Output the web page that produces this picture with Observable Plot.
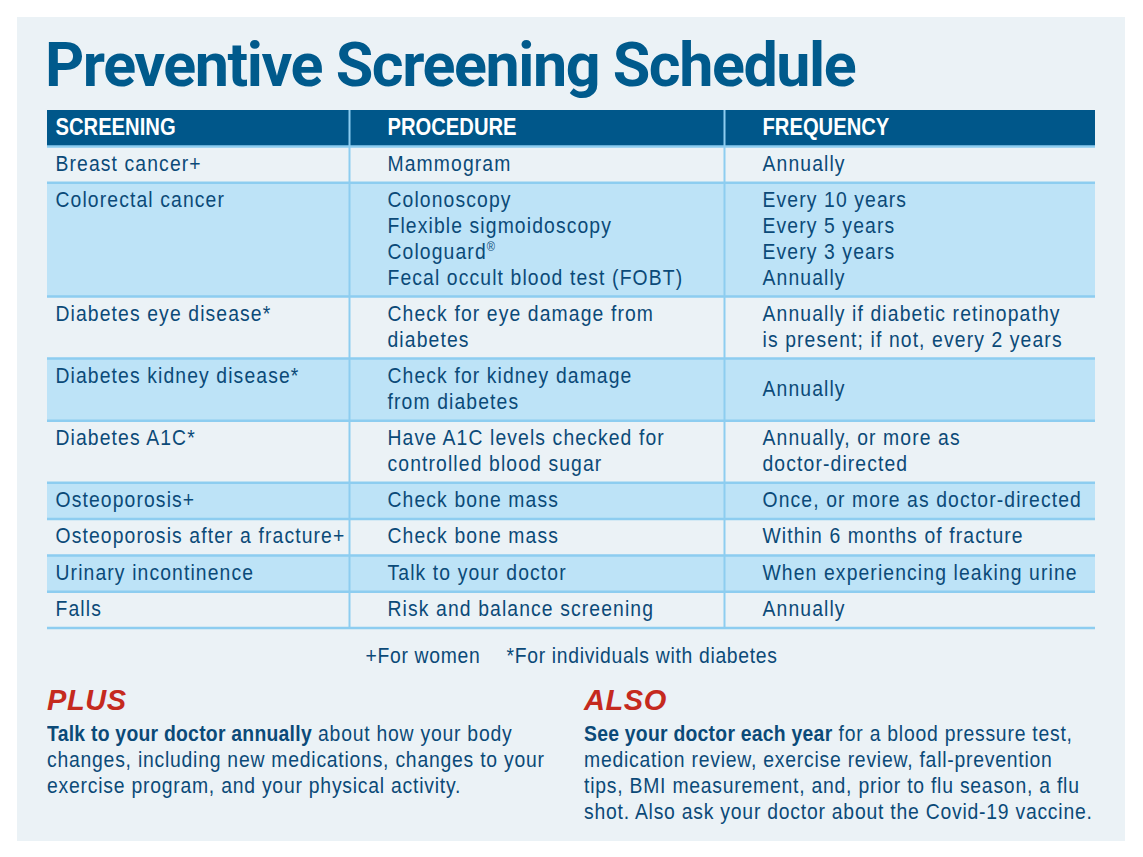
<!DOCTYPE html>
<html><head><meta charset="utf-8">
<script src="https://cdn.jsdelivr.net/npm/d3@7"></script>
<script src="https://cdn.jsdelivr.net/npm/@observablehq/plot@0.6"></script>
<style>
html,body{margin:0;padding:0;background:#fff;width:1143px;height:857px;overflow:hidden;}
#panel{position:absolute;left:17px;top:17px;width:1108px;height:824px;background:#ebf2f6;}
#title{position:absolute;left:45px;top:30px;font-family:Roboto,'Liberation Sans',sans-serif;font-weight:700;font-size:61px;line-height:70px;color:#005a8c;letter-spacing:-1.45px;white-space:nowrap;}
#chart{position:absolute;left:0;top:100px;}
.note{position:absolute;font-family:'Liberation Sans',Arial,sans-serif;color:#0b4a78;font-size:22.5px;line-height:26px;white-space:nowrap;}
.note .head{font-weight:700;font-style:italic;font-size:29px;line-height:32px;color:#c52a1e;letter-spacing:0.6px;margin-bottom:5px;}
.note .body{transform:scaleX(0.86);transform-origin:0 0;letter-spacing:0.9px;}
.note b{font-weight:700;letter-spacing:0.3px;}
</style></head>
<body>
<div id="panel"></div>
<div id="title"></div>
<div id="chart"></div>
<div class="note" id="plus" style="left:47px;top:684px;"></div>
<div class="note" id="also" style="left:584px;top:684px;"></div>
<script>
// ---- data ----
const titleText = "Preventive Screening Schedule";
const headers = ["SCREENING", "PROCEDURE", "FREQUENCY"];
const screening = ["Breast cancer+", "Colorectal cancer", "Diabetes eye disease*", "Diabetes kidney disease*", "Diabetes A1C*", "Osteoporosis+", "Osteoporosis after a fracture+", "Urinary incontinence", "Falls"];
const procedure = ["Mammogram", "Colonoscopy\nFlexible sigmoidoscopy\nCologuard®\nFecal occult blood test (FOBT)", "Check for eye damage from\ndiabetes", "Check for kidney damage\nfrom diabetes", "Have A1C levels checked for\ncontrolled blood sugar", "Check bone mass", "Check bone mass", "Talk to your doctor", "Risk and balance screening"];
const frequency = ["Annually", "Every 10 years\nEvery 5 years\nEvery 3 years\nAnnually", "Annually if diabetic retinopathy\nis present; if not, every 2 years", "Annually", "Annually, or more as\ndoctor-directed", "Once, or more as doctor-directed", "Within 6 months of fracture", "When experiencing leaking urine", "Annually"];
const footnotes = ["+For women", "*For individuals with diabetes"];
const plusHead = "PLUS";
const plusBold = "Talk to your doctor annually";
const plusLines = [" about how your body", "changes, including new medications, changes to your", "exercise program, and your physical activity."];
const alsoHead = "ALSO";
const alsoBold = "See your doctor each year";
const alsoLines = [" for a blood pressure test,", "medication review, exercise review, fall-prevention", "tips, BMI measurement, and, prior to flu season, a flu", "shot. Also ask your doctor about the Covid-19 vaccine."];

// ---- layout ----
const colEdges = [47, 349, 724, 1095];
const textX = [55, 387, 762];
const footX = [365, 506];
const headTop = 110, headBottom = 146;
const lineH = 26;            // text line spacing
const rowA = 10.5, rowB = 25.8; // row height = rowA + rowB * lines
const firstLine = 15.8;      // first line centre below row top
const FS = 22.5, SX = 0.86;  // font size, horizontal condensing
const F = "'Liberation Sans',Arial,sans-serif";
const C = {text: "#0b4a78", head: "#00578a", band: "#bde3f7", rule: "#8dcdf0"};

const nLines = t => t.split("\n").length;
const rows = screening.map((s, i) => ({i, screening: s, procedure: procedure[i], frequency: frequency[i]}));
let yc = headBottom;
for (const r of rows) {
  r.lines = Math.max(nLines(r.screening), nLines(r.procedure), nLines(r.frequency));
  r.top = yc; r.bottom = yc + rowA + rowB * r.lines; r.mid = (r.top + r.bottom) / 2; yc = r.bottom;
}
const tableBottom = yc;
const bands = rows.filter(r => r.i % 2 === 1);
const hlines = [headBottom, ...rows.map(r => r.bottom)];
const cols = [0, 1, 2].map(i => ({i, name: headers[i], x: textX[i]}));
const topY = key => d => d.top + firstLine + lineH * (nLines(d[key]) - 1) / 2;

const common = {fontFamily: F, fontSize: FS, fill: C.text, textAnchor: "start", lineAnchor: "middle", lineHeight: lineH / FS};
const chart = Plot.plot({
  width: 1143, height: 580,
  margin: 0,
  x: {domain: [0, 1143], range: [0, 1143], axis: null},
  y: {domain: [100, 680], range: [0, 580], axis: null},
  style: {background: "none", overflow: "visible", letterSpacing: "1.3px"},
  marks: [
    Plot.rect(bands, {x1: colEdges[0], x2: colEdges[3], y1: "top", y2: "bottom", fill: C.band}),
    Plot.rect([headers], {x1: colEdges[0], x2: colEdges[3], y1: headTop, y2: headBottom, fill: C.head}),
    Plot.ruleY(hlines, {x1: colEdges[0], x2: colEdges[3], stroke: C.rule, strokeWidth: 2.5}),
    Plot.ruleX(colEdges.slice(1, 3), {y1: headTop, y2: tableBottom, stroke: C.rule, strokeWidth: 2}),
    Plot.text(cols, {x: "x", y: (headTop + headBottom) / 2 - 1, text: "name", fontFamily: F, fontSize: 23.5, fontWeight: "bold", fill: "white", textAnchor: "start", lineAnchor: "middle", className: "hdr"}),
    Plot.text(rows, {...common, x: textX[0], y: topY("screening"), text: "screening"}),
    Plot.text(rows, {...common, x: textX[1], y: topY("procedure"), text: "procedure"}),
    Plot.text(rows, {...common, x: textX[2], y: d => d.mid - 2.3, text: "frequency"}),
    Plot.text(footnotes, {x: (d, i) => footX[i], y: 655, text: d => d, fontFamily: F, fontSize: FS, fill: C.text, textAnchor: "start", lineAnchor: "middle", className: "foot"})
  ]
});
document.getElementById("chart").appendChild(chart);
chart.querySelectorAll(".hdr text").forEach(t => t.style.letterSpacing = "0px");
chart.querySelectorAll(".foot text").forEach(t => t.style.letterSpacing = "0.8px");

// condense every text horizontally around its own anchor
chart.querySelectorAll("text").forEach(t => {
  const x = +t.getAttribute("x") || 0;
  const tr = t.getAttribute("transform") || "";
  t.setAttribute("transform", `${tr} translate(${x},0) scale(${SX},1) translate(${-x},0)`);
});

// superscript registered mark
chart.querySelectorAll("tspan, text").forEach(el => {
  if (el.childElementCount === 0 && el.textContent.includes("®")) {
    const parts = el.textContent.split("®");
    el.textContent = parts[0];
    const sup = document.createElementNS("http://www.w3.org/2000/svg", "tspan");
    sup.setAttribute("font-size", "13");
    sup.setAttribute("baseline-shift", "super");
    sup.textContent = "®";
    el.appendChild(sup);
  }
});

document.getElementById("title").textContent = titleText;
function fillNote(id, head, bold, lines) {
  const el = document.getElementById(id);
  const h = document.createElement("div"); h.className = "head"; h.textContent = head; el.appendChild(h);
  const p = document.createElement("div"); p.className = "body";
  const b = document.createElement("b"); b.textContent = bold; p.appendChild(b);
  lines.forEach((l, k) => { if (k > 0) p.appendChild(document.createElement("br")); p.appendChild(document.createTextNode(l)); });
  el.appendChild(p);
}
fillNote("plus", plusHead, plusBold, plusLines);
fillNote("also", alsoHead, alsoBold, alsoLines);
</script>
</body></html>
